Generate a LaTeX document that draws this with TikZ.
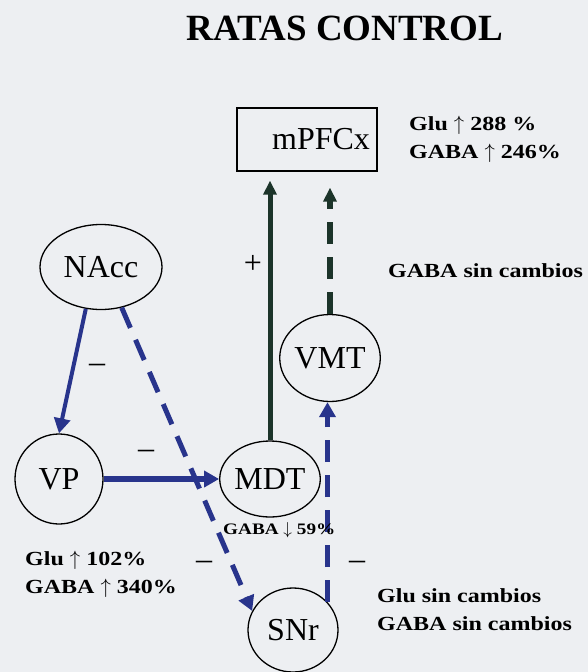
\documentclass[tikz,border=0pt]{standalone}
\usepackage{fontspec}
\setmainfont{Liberation Serif}
\newfontfamily\datosfont{Liberation Serif Bold}[FakeStretch=1.2]
\usetikzlibrary{arrows.meta,shapes.geometric}
\definecolor{viaazul}{RGB}{40,52,140}
\definecolor{viaverde}{RGB}{28,52,42}
\definecolor{fondo}{RGB}{237,239,242}
\begin{document}
\begin{tikzpicture}[x=1pt,y=-1pt,
    area/.style={ellipse, draw, line width=1.3pt, inner sep=0pt, font=\fontsize{32}{32}\selectfont},
    datos/.style={font=\fontsize{20}{28}\selectfont\datosfont, align=left, anchor=north west, inner sep=0pt},
    signo/.style={font=\fontsize{32}{32}\selectfont, anchor=base, inner sep=0pt},
    azul/.style={draw=viaazul, line width=5pt, -{Triangle[length=15pt,width=16pt]}},
    verde/.style={draw=viaverde, line width=5pt, -{Triangle[length=14pt,width=13pt]}},
    rayas/.style={dash pattern=on 22pt off 13pt}]
                \fill[fondo] (0,0) rectangle (588,672);
                \useasboundingbox (0,0) rectangle (588,672);

                \node[font=\fontsize{37}{37}\selectfont\bfseries] (titulo) at (345,28) {RATAS CONTROL};

                \node[draw, line width=1.3pt, inner xsep=7pt, text width=126pt, align=right,
                      minimum height=63pt, font=\fontsize{32}{32}\selectfont] (mPFCx) at (307,139.5) {mPFCx};
                \node[area, minimum width=122pt, minimum height=85pt] (NAcc) at (101,267) {NAcc};
                \node[area, minimum width=88pt, minimum height=90pt] (VP) at (59,479) {VP};
                \node[area, minimum width=85pt, minimum height=76pt] (MDT) at (270,479) {MDT};
                \node[area, minimum width=83pt, minimum height=87pt] (VMT) at (330,358) {VMT};
                \node[area, minimum width=90pt, minimum height=84pt] (SNr) at (293,630) {SNr};

                \draw[azul, line width=4pt] (NAcc.250) -- (VP.north);
                \draw[azul, line width=6pt] (VP) -- (MDT);
                \draw[azul, rayas] (NAcc.297) -- (SNr.155);
                \draw[azul, rayas] (SNr.39) -- (SNr.39 |- VMT.south);
                \draw[verde, shorten >=9pt] (MDT.north) -- (MDT.north |- mPFCx.south);
                \draw[verde, line width=6pt, rayas, shorten >=16pt] (VMT.north) -- (VMT.north |- mPFCx.south);

                \node[signo] (menosNV) at (97,372) {–};
                \node[signo] (menosVM) at (146,458) {–};
                \node[signo] (menosNS) at (204,569) {–};
                \node[signo] (menosSV) at (357,569) {–};
                \node[signo] (masMP) at (253,273) {+};

                \node[datos] (datosPFC) at (409,116) {Glu $\uparrow$ 288 \%\\GABA $\uparrow$ 246\%};
                \node[datos] (datosVMT) at (388,263) {GABA sin cambios};
                \node[datos] (datosVP) at (25,551) {Glu $\uparrow$ 102\%\\GABA $\uparrow$ 340\%};
                \node[datos] (datosSNr) at (377,588) {Glu sin cambios\\GABA sin cambios};
                \node[datos, font=\fontsize{16}{16}\selectfont\datosfont] (datosMDT) at (223,522) {GABA $\downarrow$ 59\%};
\end{tikzpicture}
\end{document}
